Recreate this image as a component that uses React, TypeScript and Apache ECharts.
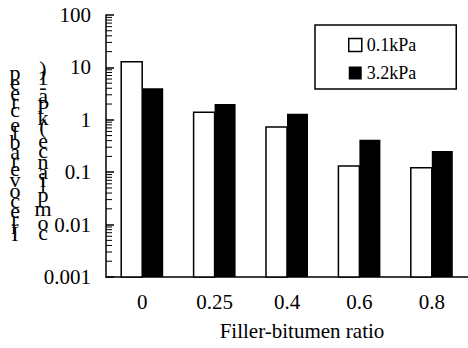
import React, { useEffect, useRef } from "react";
import * as echarts from "echarts";

const categories = ["0", "0.25", "0.4", "0.6", "0.8"];
const seriesNames = ["0.1kPa", "3.2kPa"];
const lowStress = [12.8, 1.39, 0.73, 0.131, 0.122];
const highStress = [4.0, 2.0, 1.31, 0.417, 0.254];
const yMin = 0.001;
const yMax = 100;
const decades = [0.001, 0.01, 0.1, 1, 10];
const minorMultipliers = [2, 3, 4, 5, 6, 7, 8, 9];
const xAxisName = "Filler-bitumen ratio";
const yLabelLine1 = "Irrecoverable creep";
const yLabelLine2 = "compliance (kPa-1)";

const FONT = "Liberation Serif";
const FONT_CSS = "'Liberation Serif', 'Times New Roman', serif";

function stackedColumn(text: string, cx: number, cy: number, size: number) {
  const canvas = document.createElement("canvas");
  const ctx = canvas.getContext("2d")!;
  ctx.font = `${size}px ${FONT_CSS}`;
  const widths = Array.from(text).map((ch) => ctx.measureText(ch).width);
  const total = widths.reduce((a, b) => a + b, 0);
  const yStart = cy + total / 2;
  const els: any[] = [];
  let acc = 0;
  Array.from(text).forEach((ch, i) => {
    const w = widths[i];
    if (ch.trim() !== "") {
      els.push({
        type: "text",
        x: cx,
        y: yStart - (acc + w / 2),
        style: {
          text: ch,
          fontSize: size,
          fontFamily: FONT_CSS,
          fill: "#000",
          textAlign: "center",
          textVerticalAlign: "middle",
        },
      });
    }
    acc += w;
  });
  return els;
}

function barRenderer(side: number, fill: string) {
  return (params: any, api: any) => {
    const idx = api.value(0);
    const v = api.value(1);
    const top = api.coord([idx, v]);
    const base = api.coord([idx, yMin]);
    const band = api.size([1, 0])[0];
    const w = band * 0.29;
    const x = side === 0 ? top[0] - w : top[0];
    return {
      type: "rect",
      shape: { x, y: top[1], width: w, height: base[1] - top[1] },
      style: { fill, stroke: "#000", lineWidth: side === 0 ? 1.5 : 0 },
    };
  };
}

export default function App() {
  const ref = useRef<HTMLDivElement>(null);
  useEffect(() => {
    if (!ref.current) return;
    const chart = echarts.init(ref.current, undefined, { renderer: "svg" });
    const minorTicks: number[] = [];
    decades.forEach((d) => minorMultipliers.forEach((m) => minorTicks.push(d * m)));
    const majorTicks = [...decades, yMax];
    const fmt = (v: number) => {
      const t = majorTicks.find((m) => Math.abs(Math.log10(m) - Math.log10(v)) < 1e-6);
      return t === undefined ? "" : String(t);
    };
    chart.setOption({
      animation: false,
      backgroundColor: "#fff",
      textStyle: { fontFamily: FONT, color: "#000" },
      grid: { left: 106, right: 0, top: 15, bottom: 71 },
      legend: {
        left: 315,
        top: 25,
        orient: "vertical",
        borderColor: "#000",
        borderWidth: 1.5,
        padding: [11, 40, 7, 33],
        itemGap: 10,
        itemWidth: 13,
        itemHeight: 13,
        textStyle: { fontSize: 18, fontFamily: FONT, color: "#000" },
        data: [
          { name: seriesNames[0], icon: "rect", itemStyle: { color: "#fff", borderColor: "#000", borderWidth: 1.5 } },
          { name: seriesNames[1], icon: "rect", itemStyle: { color: "#000", borderWidth: 0 } },
        ],
      },
      xAxis: {
        type: "category",
        data: categories,
        axisLine: { onZero: false, lineStyle: { color: "#000", width: 1.5 } },
        axisTick: { inside: true, length: 8, lineStyle: { color: "#000", width: 1 } },
        axisLabel: { fontSize: 21, fontFamily: FONT, color: "#000", margin: 14 },
        name: xAxisName,
        nameLocation: "middle",
        nameGap: 43,
        nameTextStyle: { fontSize: 21, fontFamily: FONT, color: "#000", padding: [0, 0, 0, 30] },
      },
      yAxis: {
        type: "log",
        logBase: 10,
        min: yMin,
        max: yMax,
        splitNumber: 5,
        axisLine: { show: true, lineStyle: { color: "#000", width: 1.5 } },
        axisTick: { show: true, inside: true, length: 8, lineStyle: { color: "#000", width: 1.5 } },
        axisLabel: { fontSize: 21, fontFamily: FONT, color: "#000", margin: 15, formatter: fmt },
        splitLine: { show: false },
      },
      graphic: [
        ...stackedColumn(yLabelLine1, 15, 152, 22),
        ...stackedColumn(yLabelLine2, 43, 151, 22),
      ],
      series: [
        {
          name: seriesNames[0],
          type: "custom",
          encode: { x: 0, y: 1 },
          itemStyle: { color: "#fff", borderColor: "#000", borderWidth: 1.5 },
          data: lowStress.map((v, i) => [i, v]),
          renderItem: barRenderer(0, "#fff"),
        },
        {
          name: seriesNames[1],
          type: "custom",
          encode: { x: 0, y: 1 },
          itemStyle: { color: "#000" },
          data: highStress.map((v, i) => [i, v]),
          renderItem: barRenderer(1, "#000"),
        },
        {
          name: "minor",
          type: "custom",
          silent: true,
          encode: { x: 0, y: 1 },
          data: minorTicks.map((v) => [0, v]),
          renderItem: (params: any, api: any) => {
            const p = api.coord([0, api.value(1)]);
            const x0 = params.coordSys.x;
            return {
              type: "line",
              shape: { x1: x0, y1: p[1], x2: x0 + 6, y2: p[1] },
              style: { stroke: "#000", lineWidth: 1 },
            };
          },
        },
      ],
    });
    return () => chart.dispose();
  }, []);
  return (
    <div
      ref={ref}
      style={{ position: "absolute", left: 0, top: 0, width: 468, height: 348 }}
    />
  );
}
